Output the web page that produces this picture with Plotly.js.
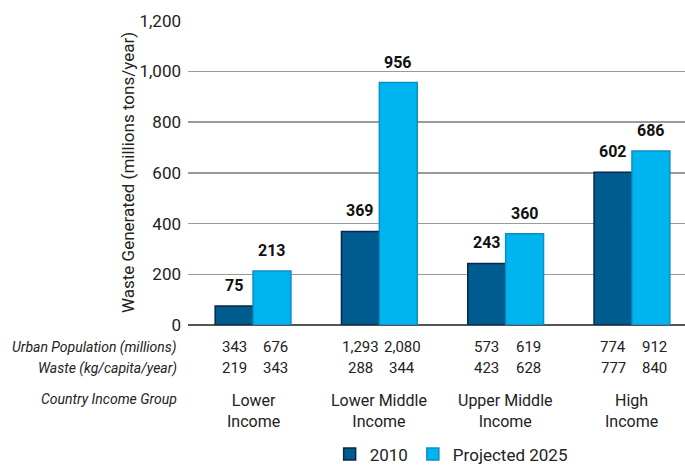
<!DOCTYPE html>
<html>
<head>
<meta charset="utf-8">
<script src="https://cdn.plot.ly/plotly-3.0.1.min.js"></script>
<style>
html,body{margin:0;padding:0;background:#fff;}
#chart{width:685px;height:466px;}
</style>
</head>
<body>
<div id="chart"></div>
<script>
const groups = ["Lower<br>Income", "Lower Middle<br>Income", "Upper Middle<br>Income", "High<br>Income"];
const waste2010 = [75, 369, 243, 602];
const waste2025 = [213, 956, 360, 686];
const urbanPop2010 = ["343", "1,293", "573", "774"];
const urbanPop2025 = ["676", "2,080", "619", "912"];
const perCap2010 = ["219", "288", "423", "777"];
const perCap2025 = ["343", "344", "628", "840"];
const rowLabels = ["Urban Population (millions)", "Waste (kg/capita/year)", "Country Income Group"];
const yTicks = [0, 200, 400, 600, 800, 1000, 1200];
const yTickText = ["0", "200", "400", "600", "800", "1,000", "1,200"];

const FONT = 'Roboto, "Liberation Sans", sans-serif';
const idx = groups.map((g, i) => i);
const off = 0.15;

const traces = [
  {type: 'bar', name: '2010', x: idx, y: waste2010,
   marker: {color: '#005b8e', line: {color: '#0a2748', width: 1.5}}, hoverinfo: 'none'},
  {type: 'bar', name: 'Projected 2025', x: idx, y: waste2025,
   marker: {color: '#00b5ef', line: {color: '#0a8fc4', width: 1.5}}, hoverinfo: 'none'}
];

const ann = [];
idx.forEach(i => {
  ann.push({x: i - off, y: waste2010[i], xref: 'x', yref: 'y', text: '<b>' + waste2010[i] + '</b>',
    showarrow: false, yanchor: 'bottom', yshift: 9, font: {family: FONT, size: 16, color: '#111'}});
  ann.push({x: i + off, y: waste2025[i], xref: 'x', yref: 'y', text: '<b>' + waste2025[i] + '</b>',
    showarrow: false, yanchor: 'bottom', yshift: 9, font: {family: FONT, size: 16, color: '#111'}});
  ann.push({x: i - off, y: 0, xref: 'x', yref: 'paper', text: urbanPop2010[i], showarrow: false,
    yanchor: 'middle', yshift: -22, font: {family: FONT, size: 15, color: '#222'}});
  ann.push({x: i + off + 0.03, y: 0, xref: 'x', yref: 'paper', text: urbanPop2025[i], showarrow: false,
    yanchor: 'middle', yshift: -22, font: {family: FONT, size: 15, color: '#222'}});
  ann.push({x: i - off, y: 0, xref: 'x', yref: 'paper', text: perCap2010[i], showarrow: false,
    yanchor: 'middle', yshift: -43, font: {family: FONT, size: 15, color: '#222'}});
  ann.push({x: i + off + 0.03, y: 0, xref: 'x', yref: 'paper', text: perCap2025[i], showarrow: false,
    yanchor: 'middle', yshift: -43, font: {family: FONT, size: 15, color: '#222'}});
  ann.push({x: i, y: 0, xref: 'x', yref: 'paper', text: groups[i], showarrow: false,
    yanchor: 'middle', yshift: -86, font: {family: FONT, size: 16, color: '#222'}});
});
const rowShift = [-22, -43, -74];
rowLabels.forEach((t, k) => {
  ann.push({x: 0, y: 0, xref: 'paper', yref: 'paper', text: '<i>' + t + '</i>', showarrow: false,
    xanchor: 'right', xshift: -9, yanchor: 'middle', yshift: rowShift[k],
    font: {family: FONT, size: 14, color: '#222'}});
});

const layout = {
  width: 685, height: 466,
  margin: {l: 188, r: 0, t: 20, b: 141, autoexpand: false},
  paper_bgcolor: '#fff', plot_bgcolor: '#fff',
  font: {family: FONT, size: 15, color: '#222'},
  barmode: 'group', bargap: 0.4, bargroupgap: 0,
  showlegend: true,
  legend: {orientation: 'h', x: 0.285, xanchor: 'left', y: -0.365, yanchor: 'top',
    font: {family: FONT, size: 17, color: '#222'}, itemwidth: 30, bgcolor: 'rgba(0,0,0,0)'},
  xaxis: {range: [-0.515, 3.42], showticklabels: false, showgrid: false, zeroline: false,
    showline: false, ticks: '', fixedrange: true},
  yaxis: {range: [0, 1203], tickvals: yTicks, ticktext: yTickText, showgrid: true,
    gridcolor: '#9a9a9a', gridwidth: 1.5, zeroline: true, zerolinecolor: '#555', zerolinewidth: 2,
    showline: false, ticks: '', ticklabelstandoff: 6,
    tickfont: {family: FONT, size: 17, color: '#222'},
    title: {text: 'Waste Generated (millions tons/year)', standoff: 0,
      font: {family: FONT, size: 17, color: '#222'}}},
  annotations: ann
};

Plotly.newPlot('chart', traces, layout, {displayModeBar: false, staticPlot: true});
</script>
</body>
</html>
